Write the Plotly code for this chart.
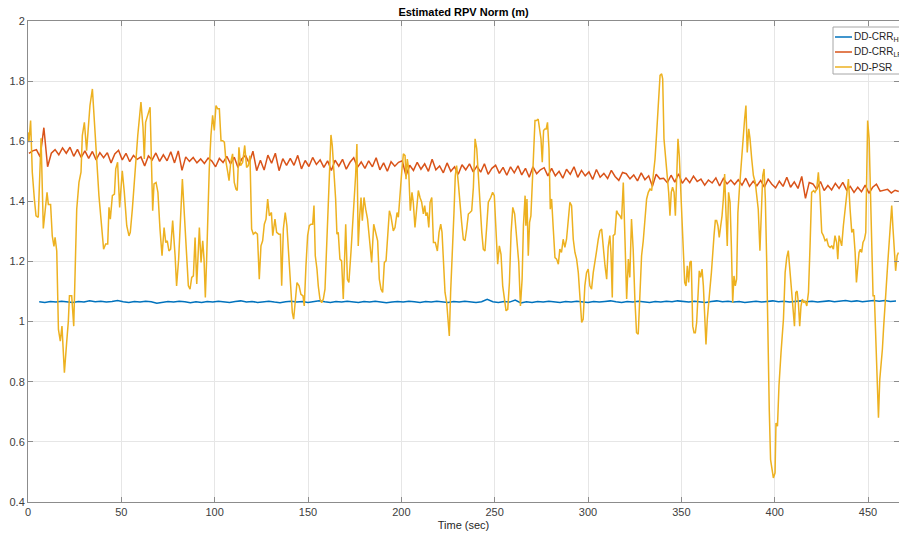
import plotly.graph_objects as go

# ---------------- data ----------------
series_names = ["DD-CRR<sub>HP</sub>", "DD-CRR<sub>LP</sub>", "DD-PSR"]
series_colors = ["#0072BD", "#D95319", "#EDB120"]

# DD-CRR_HP : sampled every 3 s starting at t = 6 s
hp_t0, hp_dt = 6.0, 3.0
hp_v = [
    1.066, 1.064, 1.067, 1.065, 1.068, 1.066, 1.064, 1.067, 1.065, 1.069,
    1.066, 1.068, 1.065, 1.067, 1.070, 1.066, 1.064, 1.067, 1.065, 1.068,
    1.066, 1.061, 1.064, 1.067, 1.065, 1.068, 1.066, 1.063, 1.066, 1.064,
    1.067, 1.065, 1.068, 1.066, 1.064, 1.067, 1.069, 1.065, 1.067, 1.064,
    1.066, 1.068, 1.065, 1.063, 1.066, 1.068, 1.065, 1.067, 1.064, 1.066,
    1.069, 1.066, 1.064, 1.067, 1.065, 1.068, 1.066, 1.064, 1.067, 1.065,
    1.068, 1.066, 1.063, 1.065, 1.067, 1.065, 1.068, 1.066, 1.064, 1.067,
    1.065, 1.068, 1.066, 1.064, 1.067, 1.065, 1.068, 1.066, 1.064, 1.066,
    1.074, 1.066, 1.064, 1.067, 1.065, 1.072, 1.062, 1.066, 1.064, 1.067,
    1.065, 1.068, 1.066, 1.064, 1.067, 1.065, 1.068, 1.066, 1.064, 1.067,
    1.065, 1.067, 1.069, 1.066, 1.064, 1.067, 1.065, 1.068, 1.066, 1.064,
    1.067, 1.065, 1.068, 1.066, 1.069, 1.067, 1.065, 1.068, 1.066, 1.064,
    1.067, 1.069, 1.066, 1.068, 1.065, 1.067, 1.064, 1.066, 1.068, 1.065,
    1.067, 1.069, 1.066, 1.068, 1.065, 1.067, 1.069, 1.066, 1.068, 1.065,
    1.067, 1.069, 1.066, 1.068, 1.070, 1.067, 1.069, 1.066, 1.068, 1.070,
    1.068, 1.070, 1.067, 1.069,
]

# DD-CRR_LP : sampled every 2 s starting at t = 0.5 s
lp_t0, lp_dt = 0.5, 2.0
lp_v = [
    1.560, 1.568, 1.572, 1.548, 1.645, 1.515, 1.560, 1.572, 1.555, 1.578,
    1.560, 1.580, 1.550, 1.573, 1.546, 1.568, 1.543, 1.566, 1.538, 1.562,
    1.545, 1.562, 1.528, 1.558, 1.570, 1.538, 1.560, 1.532, 1.553, 1.540,
    1.548, 1.518, 1.551, 1.538, 1.561, 1.533, 1.555, 1.535, 1.565, 1.528,
    1.568, 1.503, 1.548, 1.533, 1.546, 1.528, 1.541, 1.526, 1.544, 1.534,
    1.515, 1.543, 1.529, 1.550, 1.525, 1.547, 1.513, 1.541, 1.553, 1.527,
    1.567, 1.502, 1.537, 1.504, 1.554, 1.527, 1.560, 1.502, 1.542, 1.520,
    1.543, 1.520, 1.553, 1.508, 1.536, 1.516, 1.546, 1.523, 1.538, 1.513,
    1.535, 1.503, 1.537, 1.517, 1.540, 1.507, 1.530, 1.545, 1.513, 1.531,
    1.510, 1.535, 1.515, 1.545, 1.505, 1.528, 1.500, 1.532, 1.517, 1.530,
    1.535, 1.485, 1.520, 1.503, 1.530, 1.507, 1.525, 1.500, 1.540, 1.505,
    1.518, 1.495, 1.528, 1.500, 1.515, 1.490, 1.522, 1.505, 1.525, 1.498,
    1.517, 1.497, 1.525, 1.490, 1.510, 1.520, 1.493, 1.513, 1.487, 1.515,
    1.495, 1.518, 1.488, 1.510, 1.480, 1.515, 1.492, 1.505, 1.512, 1.485,
    1.510, 1.485, 1.500, 1.477, 1.507, 1.490, 1.515, 1.480, 1.503, 1.485,
    1.498, 1.473, 1.506, 1.480, 1.493, 1.476, 1.503, 1.483, 1.470, 1.496,
    1.492, 1.475, 1.488, 1.468, 1.495, 1.472, 1.485, 1.450, 1.490, 1.475,
    1.477, 1.462, 1.487, 1.464, 1.492, 1.460, 1.478, 1.462, 1.484, 1.466,
    1.474, 1.454, 1.471, 1.461, 1.478, 1.451, 1.476, 1.458, 1.471, 1.456,
    1.472, 1.454, 1.477, 1.450, 1.467, 1.452, 1.470, 1.447, 1.474, 1.457,
    1.445, 1.467, 1.450, 1.480, 1.447, 1.465, 1.443, 1.483, 1.410, 1.463,
    1.458, 1.440, 1.466, 1.436, 1.453, 1.438, 1.460, 1.443, 1.463, 1.438,
    1.450, 1.430, 1.447, 1.432, 1.454, 1.427, 1.447, 1.457, 1.434, 1.437,
    1.440, 1.428, 1.437, 1.433,
]

# DD-PSR : (time, value)
psr_t = [
    0.0, 0.5, 1.4, 2.3, 3.4, 4.3, 5.5, 7.0, 8.2, 9.5, 10.2, 10.9, 12.1, 13.0, 13.9, 14.5,
    15.4, 16.3, 17.3, 18.2, 19.5, 20.7, 21.6, 22.2, 23.4, 24.5, 25.2, 26.1, 27.3, 28.4,
    29.1, 30.2, 31.4, 32.3, 33.2, 34.5, 35.5, 36.8, 38.0, 39.1, 40.5, 41.6, 42.7, 43.4,
    44.1, 45.2, 46.3, 47.0, 48.0, 49.1, 50.5, 51.6, 52.9, 54.1, 54.8, 55.9, 57.3, 58.8,
    60.5, 61.6, 62.3, 63.0, 64.1, 65.4,
    66.8, 67.5, 68.6, 69.6, 70.7, 71.8, 72.9, 73.8, 74.6, 75.5, 76.4, 77.5, 78.8, 79.6,
    80.7, 81.8, 82.7, 83.8, 85.0, 85.9, 86.8, 87.7, 88.6, 89.5, 90.4, 91.8, 92.7, 93.6,
    94.3, 95.0, 95.7, 96.4, 97.1, 98.0, 98.9, 99.8, 100.7, 101.6, 102.5, 103.4, 104.3,
    105.2, 106.1, 107.0, 107.7, 108.6, 109.6, 110.5, 111.4, 112.1, 113.0, 113.9, 115.0,
    116.1, 117.1, 118.0, 118.9, 119.8, 120.7, 121.8, 122.9, 123.9, 124.8, 125.7, 126.6,
    127.5, 128.4, 129.3, 130.4, 131.1, 132.3,
    133.2, 134.4, 135.2, 135.9, 136.8, 137.8, 138.7, 139.8, 140.7, 141.6, 142.3, 143.2,
    144.1, 145.2, 146.2, 147.3, 148.0, 148.9, 149.8, 150.7, 151.6, 152.5, 153.2, 153.9,
    154.8, 155.5, 156.4, 157.3, 158.2, 159.1, 160.0, 160.9, 161.6, 162.3, 163.0, 163.9,
    164.8, 165.5, 166.2, 167.1, 168.0, 168.9, 170.2, 171.1, 171.9, 173.0, 173.9, 174.8,
    175.5, 176.2, 176.9, 177.7, 178.4, 179.1, 180.0, 180.9, 181.9, 183.0, 184.1, 185.2,
    186.2, 187.3, 188.2, 189.1, 190.0, 190.9, 191.8, 192.7, 193.6, 194.4, 195.7, 196.6,
    197.7, 198.4, 199.3,
    200.2, 201.1, 202.0, 202.5, 203.2, 203.9, 204.8, 205.7, 206.4, 207.3, 208.2, 209.1,
    210.0, 210.9, 211.8, 212.5, 213.2, 213.9, 214.7, 215.4, 216.3, 217.2, 218.2, 219.3,
    220.2, 221.1, 221.8, 222.5, 223.4, 224.3, 225.0, 225.7, 226.4, 227.3, 228.2, 228.9,
    229.6, 230.5, 231.4, 232.3, 233.2, 234.1, 235.0, 235.9, 236.8, 237.7, 238.6, 239.5,
    240.4, 241.3, 242.2, 243.1, 243.9, 244.8, 245.7, 246.6, 247.9, 248.9, 249.8, 250.7,
    251.6, 252.5, 253.4, 254.3, 255.2, 256.1, 257.0, 257.9, 258.8, 259.7, 260.7, 261.8,
    262.9, 263.8, 264.7, 265.4, 266.3,
    266.7, 267.3, 268.0, 268.7, 269.4, 270.1, 270.8, 271.6, 272.4, 273.3, 274.1, 274.8,
    275.5, 276.2, 276.9, 277.6, 278.3, 279.1, 279.8, 280.5, 281.4, 282.3, 283.2, 284.1,
    284.9, 285.8, 286.7, 287.6, 288.5, 289.4, 290.3, 291.2, 292.1, 293.0, 293.9, 294.8,
    295.7, 296.6, 297.4, 298.3, 299.2, 300.1, 301.0, 301.9, 302.8, 303.7, 304.6, 305.5,
    306.4, 307.3, 308.2, 309.1, 310.0, 310.8, 311.7, 312.3, 313.0, 313.5, 314.4, 315.3,
    316.2, 317.1, 318.0, 318.9, 319.8, 320.7, 321.6, 322.4, 323.3, 324.2, 325.1, 326.0,
    326.9, 327.8, 328.7, 329.6, 330.5, 331.4, 332.3, 333.2,
    334.1, 335.0, 335.9, 336.8, 337.7, 338.6, 339.45, 340.0, 340.7, 341.6, 342.5, 343.2,
    343.9, 344.6, 345.3, 346.1, 346.8, 347.5, 348.2, 348.9, 349.6, 350.3, 351.1, 351.8,
    352.5, 353.2, 353.9, 354.6, 355.3, 356.1, 356.8, 357.5, 358.2, 358.9, 359.6, 360.3,
    361.1, 361.8, 362.5, 363.2, 363.9, 364.6, 365.3, 366.1, 366.8, 367.5, 368.2, 368.9,
    369.6, 370.3, 371.1, 371.8, 372.5, 373.2, 373.9, 374.6, 375.3, 376.1, 376.8, 377.5,
    378.2, 378.9, 379.6, 380.3, 381.1, 381.8, 382.5, 383.2, 383.9, 384.6, 385.3, 386.1,
    386.8, 387.7, 388.6, 389.6, 390.3, 391.2, 392.1, 392.8, 393.6, 394.3, 395.0, 395.7,
    396.4, 397.1, 397.8, 398.6, 399.3,
    400.2, 400.7, 401.5, 402.3, 403.4, 404.7, 405.6, 406.45, 407.3, 408.2, 409.1, 410.0,
    410.6, 411.3, 412.0, 412.7, 413.4, 414.1, 414.8, 415.6, 416.3, 417.2, 418.1, 418.95,
    419.8, 420.9, 421.6, 422.5, 423.4, 424.3, 425.2, 426.1, 427.0, 427.9, 428.8, 429.7,
    430.6, 431.45, 432.3, 433.2, 433.8, 434.5, 435.2, 435.9, 436.8, 437.7, 438.6, 439.5,
    440.4, 441.3, 442.2, 443.1, 443.8, 444.5, 445.2, 445.9, 446.6, 447.3, 448.1, 448.8,
    449.3, 449.8, 450.6, 451.3, 452.0, 452.7, 453.4, 454.1, 454.8, 455.6, 456.3, 457.0,
    457.7, 458.4, 459.1, 459.8, 460.6, 461.3, 462.0, 462.7, 463.4, 464.1, 464.8, 465.6,
    466.3,
]
psr_v = [
    1.630, 1.597, 1.669, 1.497, 1.408, 1.352, 1.347, 1.610, 1.310, 1.400, 1.430, 1.390, 1.390, 1.285, 1.250, 1.280,
    1.235, 0.974, 0.935, 0.985, 0.830, 0.930, 1.000, 1.086, 1.086, 0.985, 1.208, 1.374, 1.463, 1.497,
    1.619, 1.663, 1.569, 1.663, 1.719, 1.774, 1.674, 1.530, 1.419, 1.341, 1.241, 1.258, 1.258, 1.380,
    1.341, 1.419, 1.424, 1.508, 1.530, 1.380, 1.502, 1.430, 1.319, 1.285, 1.297, 1.374, 1.508, 1.619,
    1.730, 1.647, 1.541, 1.663, 1.686, 1.713,
    1.369, 1.458, 1.463, 1.430, 1.308, 1.219, 1.313, 1.263, 1.269, 1.235, 1.241, 1.336, 1.219, 1.119,
    1.208, 1.374, 1.474, 1.352, 1.197, 1.119, 1.108, 1.147, 1.152, 1.280, 1.125, 1.313, 1.197, 1.269,
    1.208, 1.080, 1.208, 1.374, 1.508, 1.619, 1.686, 1.636, 1.719, 1.708, 1.708, 1.602, 1.602,
    1.597, 1.530, 1.497, 1.469, 1.530, 1.558, 1.463, 1.441, 1.436, 1.580, 1.519, 1.530,
    1.586, 1.513, 1.519, 1.552, 1.308, 1.291, 1.297, 1.291, 1.141, 1.252, 1.269, 1.324,
    1.341, 1.408, 1.352, 1.363, 1.286, 1.341,
    1.297, 1.291, 1.291, 1.119, 1.308, 1.363, 1.319, 1.208, 1.097, 1.030, 1.008, 1.075,
    1.130, 1.119, 1.091, 1.086, 1.052, 1.186, 1.286, 1.319, 1.324, 1.324, 1.386, 1.219,
    1.175, 1.119, 1.075, 1.063, 1.075, 1.108, 1.252, 1.452, 1.563, 1.621, 1.586, 1.508,
    1.408, 1.291, 1.297, 1.208, 1.202, 1.075, 1.324, 1.141, 1.130, 1.230, 1.319, 1.408,
    1.486, 1.591, 1.252, 1.352, 1.413, 1.336, 1.413, 1.374, 1.341, 1.269, 1.197, 1.324,
    1.297, 1.269, 1.141, 1.108, 1.097, 1.197, 1.202, 1.286, 1.369, 1.352, 1.302, 1.313,
    1.363, 1.347, 1.430,
    1.497, 1.558, 1.552, 1.474, 1.541, 1.508, 1.369, 1.430, 1.397, 1.313, 1.386, 1.436,
    1.413, 1.397, 1.358, 1.386, 1.352, 1.363, 1.313, 1.397, 1.413, 1.263, 1.263, 1.235,
    1.297, 1.324, 1.297, 1.208, 1.097, 1.063, 1.013, 0.952, 1.097, 1.208, 1.363, 1.486,
    1.519, 1.463, 1.386, 1.330, 1.274, 1.269, 1.308, 1.358, 1.363, 1.369, 1.447, 1.608,
    1.575, 1.474, 1.386, 1.297, 1.241, 1.235, 1.313, 1.397, 1.413, 1.430, 1.419, 1.286,
    1.191, 1.252, 1.224, 1.119, 1.069, 1.036, 1.041, 1.130, 1.297, 1.380, 1.358, 1.286,
    1.197, 1.052, 1.141, 1.319, 1.419,
    1.319, 1.408, 1.219, 1.330, 1.352, 1.430, 1.552, 1.669, 1.669, 1.674, 1.641, 1.608,
    1.530, 1.636, 1.641, 1.641, 1.663, 1.575, 1.374, 1.408, 1.308, 1.213, 1.208, 1.191,
    1.241, 1.230, 1.274, 1.247, 1.274, 1.341, 1.397, 1.386, 1.274, 1.230, 1.208, 1.163,
    1.075, 0.997, 1.008, 1.119, 1.163, 1.175, 1.119, 1.108, 1.163, 1.208, 1.235, 1.274,
    1.302, 1.308, 1.230, 1.186, 1.141, 1.247, 1.286, 1.230, 1.080, 1.286, 1.291, 1.369,
    1.358, 1.352, 1.341, 1.463, 1.274, 1.075, 1.208, 1.147, 1.341, 1.241, 1.075, 0.963,
    0.958, 1.075, 1.219, 1.269, 1.341, 1.408, 1.430, 1.441,
    1.436, 1.497, 1.541, 1.630, 1.719, 1.819, 1.824, 1.808, 1.608, 1.552, 1.486, 1.430,
    1.352, 1.430, 1.447, 1.430, 1.352, 1.508, 1.608, 1.552, 1.452, 1.341, 1.241, 1.130,
    1.119, 1.186, 1.130, 1.197, 1.202, 0.985, 0.963, 0.963, 0.997, 1.097, 1.169, 1.147,
    1.175, 1.119, 1.030, 0.924, 1.008, 1.075, 1.108, 1.163, 1.241, 1.286, 1.336, 1.336,
    1.319, 1.280, 1.319, 1.352, 1.408, 1.491, 1.363, 1.252, 1.430, 1.397, 1.252, 1.063,
    1.152, 1.119, 1.141, 1.363, 1.441, 1.508, 1.552, 1.619, 1.674, 1.719, 1.563, 1.641,
    1.608, 1.541, 1.486, 1.463, 1.419, 1.374, 1.236, 1.363, 1.486, 1.508, 1.408, 1.208,
    0.930, 0.708, 0.541, 0.497, 0.480,
    0.497, 0.663, 0.652, 0.786, 0.897, 1.008, 1.163, 1.213, 1.236, 1.163, 1.097, 1.019,
    0.985, 1.097, 1.102, 1.063, 0.985, 1.052, 1.075, 1.063, 1.069, 1.052, 1.097, 1.252,
    1.430, 1.436, 1.430, 1.441, 1.497, 1.419, 1.297, 1.286, 1.269, 1.274, 1.252, 1.247,
    1.252, 1.241, 1.286, 1.263, 1.208, 1.286, 1.263, 1.252, 1.319, 1.374, 1.408, 1.474,
    1.374, 1.297, 1.308, 1.230, 1.130, 1.197, 1.230, 1.241, 1.230, 1.263, 1.274, 1.297,
    1.519, 1.669, 1.608, 1.452, 1.263, 1.086, 1.086, 0.963, 0.819, 0.680, 0.808, 0.852,
    0.908, 0.985, 1.075, 1.119, 1.197, 1.252, 1.319, 1.386, 1.308, 1.252, 1.169, 1.219,
    1.230,
]

x_ticks = [0, 50, 100, 150, 200, 250, 300, 350, 400, 450]
y_ticks = [0.4, 0.6, 0.8, 1.0, 1.2, 1.4, 1.6, 1.8, 2.0]
y_tick_text = ["0.4", "0.6", "0.8", "1", "1.2", "1.4", "1.6", "1.8", "2"]
title_text = "Estimated RPV Norm (m)"
x_label = "Time (sec)"

# ---------------- figure ----------------
hp_t = [hp_t0 + hp_dt * i for i in range(len(hp_v))]
lp_t = [lp_t0 + lp_dt * i for i in range(len(lp_v))]

W, H = 899, 535
ML, MR, MT, MB = 28, 0, 21, 33
FONT = "Liberation Sans, Arial, sans-serif"

fig = go.Figure()
for name, t, v, c in zip(series_names, [hp_t, lp_t, psr_t], [hp_v, lp_v, psr_v], series_colors):
    fig.add_trace(go.Scatter(x=t, y=v, mode="lines", name=name,
                             line=dict(color=c, width=1.5), showlegend=False))

axis_common = dict(
    showgrid=True, gridcolor="#e6e6e6", gridwidth=1, zeroline=False,
    showline=True, linecolor="#8c8c8c", linewidth=1, mirror="ticks",
    ticks="inside", ticklen=5, tickcolor="#8c8c8c",
    tickfont=dict(family=FONT, size=11, color="#404040"),
)

fig.update_layout(
    width=W, height=H,
    margin=dict(l=ML, r=MR, t=MT, b=MB, pad=0),
    paper_bgcolor="white", plot_bgcolor="white",
    font=dict(family=FONT, size=11, color="#262626"),
    title=dict(text="<b>" + title_text + "</b>", x=0.5, xref="paper",
               y=1 - 12 / H, yref="container", xanchor="center", yanchor="middle",
               font=dict(size=11, color="#000000")),
    xaxis=dict(range=[0, 466.6], tickvals=x_ticks, ticktext=[str(v) for v in x_ticks],
               title=dict(text=x_label, standoff=4, font=dict(size=11, color="#262626")),
               **axis_common),
    yaxis=dict(range=[0.4, 2.0], tickvals=y_ticks, ticktext=y_tick_text, **axis_common),
)

# Legend drawn like the (cropped) MATLAB legend box in the top-right corner
pw = W - ML - MR
ph = H - MT - MB
def px_x(p):
    return (p - ML) / pw
def px_y(p):
    return 1 - (p - MT) / ph

fig.add_shape(type="rect", xref="paper", yref="paper",
              x0=px_x(833), x1=px_x(940), y0=px_y(74), y1=px_y(27),
              line=dict(color="#a6a6a6", width=1), fillcolor="white", layer="above")
row_y = [37, 52, 67]
for name, c, ry in zip(series_names, series_colors, row_y):
    fig.add_shape(type="line", xref="paper", yref="paper",
                  x0=px_x(835), x1=px_x(852), y0=px_y(ry), y1=px_y(ry),
                  line=dict(color=c, width=1.5), layer="above")
    fig.add_annotation(x=px_x(852), y=px_y(ry), xref="paper", yref="paper",
                       text=name, showarrow=False, xanchor="left", yanchor="middle",
                       font=dict(family=FONT, size=10, color="#262626"))

fig.write_html("out.html")
